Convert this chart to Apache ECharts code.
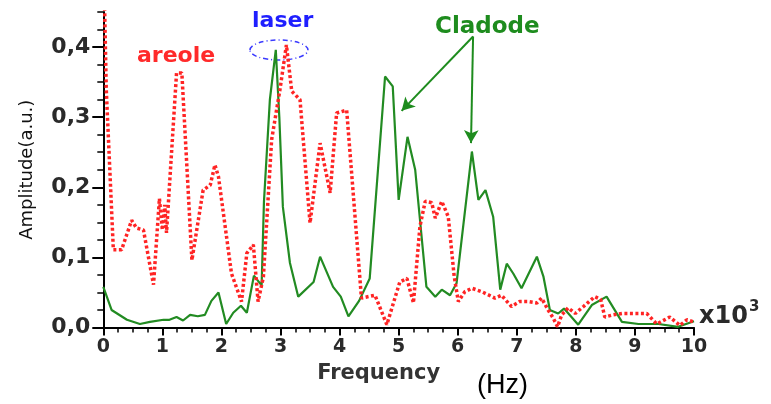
<!DOCTYPE html>
<html>
<head>
<meta charset="utf-8">
<script src="https://cdn.jsdelivr.net/npm/echarts@6/dist/echarts.min.js"></script>
<style>html,body{margin:0;padding:0;background:#fff}#c{width:771px;height:404px}</style>
</head>
<body>
<div id="c"></div>
<script>
// Cladode (green, solid)
const cladodeFreq = [0, 0.14, 0.40, 0.62, 0.79, 1.02, 1.12, 1.24, 1.35, 1.47, 1.60, 1.72, 1.83, 1.95, 2.08, 2.20, 2.33, 2.43, 2.55, 2.68, 2.72, 2.82, 2.92, 2.98, 3.04, 3.16, 3.30, 3.56, 3.67, 3.89, 4.02, 4.15, 4.33, 4.51, 4.77, 4.90, 5.00, 5.15, 5.28, 5.47, 5.62, 5.73, 5.87, 5.98, 6.24, 6.35, 6.47, 6.60, 6.72, 6.83, 6.94, 7.08, 7.34, 7.45, 7.56, 7.70, 7.80, 8.04, 8.27, 8.52, 8.78, 9.06, 9.40, 9.73, 10.0];
const cladodeAmp  = [0.058, 0.025, 0.011, 0.005, 0.008, 0.011, 0.011, 0.015, 0.010, 0.018, 0.016, 0.018, 0.038, 0.050, 0.005, 0.021, 0.031, 0.021, 0.074, 0.060, 0.18, 0.325, 0.396, 0.30, 0.172, 0.092, 0.044, 0.065, 0.101, 0.058, 0.044, 0.016, 0.038, 0.070, 0.358, 0.344, 0.182, 0.272, 0.225, 0.058, 0.044, 0.054, 0.046, 0.063, 0.251, 0.182, 0.196, 0.158, 0.054, 0.091, 0.077, 0.056, 0.101, 0.073, 0.025, 0.020, 0.027, 0.004, 0.032, 0.044, 0.008, 0.005, 0.005, 0.001, 0.009];
// Areole (red, dotted)
const areoleFreq = [0, 0.05, 0.17, 0.31, 0.48, 0.56, 0.68, 0.85, 0.95, 1.00, 1.04, 1.07, 1.24, 1.33, 1.50, 1.69, 1.81, 1.89, 1.95, 2.17, 2.34, 2.43, 2.54, 2.62, 2.71, 2.85, 2.99, 3.10, 3.19, 3.33, 3.50, 3.67, 3.84, 3.95, 4.12, 4.37, 4.60, 4.80, 5.02, 5.14, 5.25, 5.36, 5.45, 5.56, 5.62, 5.73, 5.84, 5.94, 6.01, 6.12, 6.24, 6.41, 6.63, 6.74, 6.91, 7.05, 7.19, 7.34, 7.42, 7.53, 7.62, 7.69, 7.76, 7.87, 7.99, 8.13, 8.32, 8.42, 8.49, 8.63, 8.78, 9.03, 9.20, 9.37, 9.59, 9.76, 9.88, 10.0];
const areoleAmp  = [0.55, 0.34, 0.111, 0.111, 0.153, 0.142, 0.139, 0.061, 0.184, 0.139, 0.175, 0.135, 0.363, 0.363, 0.096, 0.196, 0.203, 0.232, 0.215, 0.077, 0.037, 0.106, 0.118, 0.037, 0.072, 0.268, 0.339, 0.403, 0.337, 0.325, 0.149, 0.263, 0.192, 0.306, 0.310, 0.042, 0.046, 0.004, 0.065, 0.070, 0.035, 0.144, 0.180, 0.178, 0.156, 0.180, 0.158, 0.073, 0.037, 0.051, 0.056, 0.051, 0.042, 0.046, 0.030, 0.037, 0.037, 0.035, 0.042, 0.025, 0.013, 0.001, 0.018, 0.028, 0.020, 0.030, 0.044, 0.040, 0.015, 0.018, 0.020, 0.020, 0.020, 0.005, 0.015, 0.003, 0.011, 0.008];
const yMajorTicks = [0, 0.1, 0.2, 0.3, 0.4];
// Arrow annotation anchors (data coordinates)
const arrowStart = [6.26, 0.415];
const arrowEnds = [[5.05, 0.309], [6.225, 0.263]];

const pairs = (xs, ys) => xs.map((x, i) => [x, ys[i]]);
const labelFont = 'DejaVu Sans';

const chart = echarts.init(document.getElementById('c'), null, {renderer: 'canvas'});
chart.setOption({
  animation: false,
  backgroundColor: '#fff',
  grid: {left: 103.3, right: 77, top: 12, bottom: 76.5, containLabel: false},
  xAxis: {
    type: 'value', min: 0, max: 10, interval: 1,
    name: 'Frequency', nameLocation: 'middle', nameGap: 36,
    nameTextStyle: {fontFamily: labelFont, fontWeight: 'bold', fontSize: 21, color: '#333', padding: [0, 40, 0, 0]},
    axisLine: {show: true, onZero: false, lineStyle: {color: '#000', width: 2}},
    axisTick: {show: true, length: 8, lineStyle: {color: '#000', width: 2}},
    minorTick: {show: true, splitNumber: 4, length: 5, lineStyle: {color: '#000', width: 1.5}},
    axisLabel: {margin: 10, fontFamily: labelFont, fontWeight: 'bold', fontSize: 19, color: '#2a2a2a'},
    splitLine: {show: false}
  },
  yAxis: [{
    type: 'value', min: 0, max: 0.45, interval: 0.025,
    name: 'Amplitude(a.u.)', nameLocation: 'middle', nameGap: 67,
    nameTextStyle: {fontFamily: labelFont, fontSize: 18, color: '#111'},
    axisLine: {show: true, onZero: false, lineStyle: {color: '#000', width: 2}},
    axisTick: {show: true, length: 6, lineStyle: {color: '#000', width: 1.5}},
    axisLabel: {
      margin: 13, fontFamily: labelFont, fontWeight: 'bold', fontSize: 22, color: '#2a2a2a',
      formatter: v => (Math.abs(v * 10 - Math.round(v * 10)) < 1e-6) ? v.toFixed(1).replace('.', ',') : ''
    },
    splitLine: {show: false}
  }, {
    type: 'value', min: 0, max: 0.45, position: 'left',
    axisLine: {show: false},
    axisTick: {show: true, length: 11, customValues: yMajorTicks, lineStyle: {color: '#000', width: 2}},
    axisLabel: {show: false},
    splitLine: {show: false}
  }],
  series: [{
    name: 'Cladode', type: 'line', yAxisIndex: 0,
    data: pairs(cladodeFreq, cladodeAmp),
    showSymbol: false, clip: true,
    lineStyle: {color: '#228b22', width: 2.2},
    markLine: {
      silent: true, symbol: ['none', 'arrow'], symbolSize: [11, 13],
      label: {show: false},
      lineStyle: {color: '#1e8c1e', width: 2, type: 'solid'},
      data: arrowEnds.map(e => [{coord: arrowStart}, {coord: e}])
    }
  }, {
    name: 'areole', type: 'line', yAxisIndex: 0,
    data: pairs(areoleFreq, areoleAmp),
    showSymbol: false, clip: true,
    lineStyle: {color: '#ff2424', width: 3.5, type: [3, 2.5], cap: 'butt'}
  }],
  graphic: [
    {type: 'text', left: 137, top: 45, style: {text: 'areole', fill: '#ff2a2a', font: 'bold 22px "DejaVu Sans"'}},
    {type: 'text', left: 252, top: 10, style: {text: 'laser', fill: '#1f1fff', font: 'bold 22px "DejaVu Sans"'}},
    {type: 'text', left: 435, top: 16, style: {text: 'Cladode', fill: '#1e8c1e', font: 'bold 23px "DejaVu Sans"'}},
    {type: 'ellipse', shape: {cx: 279, cy: 50, rx: 29, ry: 10},
     style: {fill: 'none', stroke: '#3a3aff', lineWidth: 1.5, lineDash: [5, 3, 1, 3]}},
    {type: 'text', left: 699, top: 300, style: {
      text: '{a|x10}{b|3}',
      rich: {a: {font: 'bold 24px "DejaVu Sans"', fill: '#2a2a2a', padding: [8, 0, 0, 0]},
             b: {font: 'bold 15px "DejaVu Sans"', fill: '#2a2a2a', padding: [0, 0, 10, 1]}}
    }},
    {type: 'text', left: 477, top: 372, style: {text: '(Hz)', fill: '#000', font: '27px "Liberation Sans"'}}
  ]
});
</script>
</body>
</html>
